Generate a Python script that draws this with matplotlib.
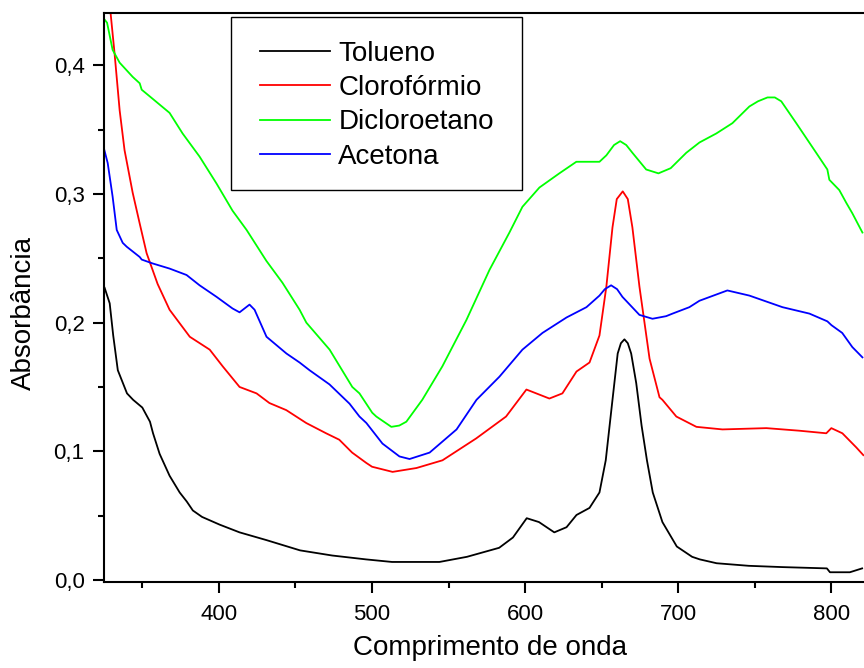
import matplotlib
matplotlib.use("Agg")
from matplotlib import pyplot as plt
from matplotlib.patches import Rectangle
from matplotlib.ticker import MultipleLocator, FuncFormatter

# espectros UV-Vis
tol_x = [325.4, 328.7, 331.0, 334.0, 340.0, 344.0, 350.0, 355.0, 357.0, 361.3, 367.8, 374.4,
         379.0, 383.0, 389.0, 400.5, 413.5, 431.0, 453.0, 474.0, 496.0, 513.0, 530.0, 544.0,
         562.0, 583.0, 592.0, 601.0, 609.0, 619.0, 627.0, 633.5, 642.0, 648.5, 652.6, 657.0,
         660.4, 662.5, 664.8, 667.0, 669.2, 672.5, 676.0, 679.5, 683.3, 689.6, 699.0, 709.0,
         714.0, 725.0, 746.0, 768.0, 797.0, 799.0, 812.0, 820.0]
tol_y = [0.227, 0.215, 0.190, 0.163, 0.145, 0.140, 0.134, 0.123, 0.114, 0.098, 0.081, 0.068,
         0.061, 0.054, 0.049, 0.043, 0.037, 0.031, 0.023, 0.019, 0.016, 0.014, 0.014, 0.014,
         0.018, 0.025, 0.033, 0.048, 0.045, 0.037, 0.041, 0.0505, 0.056, 0.068, 0.093, 0.140,
         0.176, 0.184, 0.187, 0.184, 0.176, 0.153, 0.120, 0.093, 0.068, 0.045, 0.026, 0.018,
         0.016, 0.013, 0.011, 0.010, 0.009, 0.006, 0.006, 0.009]

clo_x = [328.5, 331.9, 335.2, 338.4, 343.7, 348.3, 352.8, 360.0, 367.8, 381.0, 394.0, 402.5,
         413.5, 424.6, 433.0, 444.0, 457.0, 470.0, 478.6, 487.0, 496.2, 500.0, 513.4, 529.0,
         546.0, 568.0, 587.5, 600.8, 615.8, 624.3, 633.5, 642.0, 648.5, 653.0, 657.0, 659.8,
         663.7, 667.0, 670.0, 674.6, 681.2, 687.7, 689.6, 698.7, 711.8, 728.8, 757.5, 779.0,
         796.6, 799.9, 807.1, 816.2, 820.8]
clo_y = [0.450, 0.409, 0.365, 0.334, 0.301, 0.277, 0.254, 0.230, 0.210, 0.189, 0.179, 0.166,
         0.150, 0.145, 0.1375, 0.132, 0.122, 0.114, 0.109, 0.099, 0.091, 0.088, 0.084, 0.087,
         0.093, 0.110, 0.127, 0.148, 0.141, 0.145, 0.162, 0.169, 0.190, 0.228, 0.274, 0.296,
         0.302, 0.296, 0.274, 0.228, 0.172, 0.142, 0.140, 0.127, 0.119, 0.117, 0.118, 0.116,
         0.114, 0.118, 0.114, 0.103, 0.097]

dic_x = [324.4, 327.0, 330.6, 335.2, 343.7, 348.3, 349.6, 356.7, 367.8, 376.3, 387.4, 398.5,
         408.9, 418.1, 431.0, 441.5, 452.7, 457.1, 472.3, 487.1, 491.8, 500.1, 502.8, 512.6,
         517.8, 522.4, 532.8, 545.9, 561.6, 576.7, 589.7, 598.2, 609.3, 622.3, 633.4, 641.9,
         648.5, 653.0, 658.0, 662.0, 666.0, 670.0, 679.0, 687.0, 695.0, 705.2, 713.8, 724.8,
         735.3, 746.4, 752.0, 758.2, 763.0, 767.2, 777.0, 790.0, 797.3, 798.6, 805.1, 809.7,
         813.6, 820.2]
dic_y = [0.437, 0.433, 0.412, 0.402, 0.391, 0.386, 0.381, 0.374, 0.363, 0.347, 0.329, 0.308,
         0.287, 0.272, 0.248, 0.231, 0.210, 0.200, 0.179, 0.150, 0.145, 0.130, 0.127, 0.119,
         0.120, 0.123, 0.140, 0.166, 0.202, 0.241, 0.270, 0.290, 0.305, 0.316, 0.325, 0.325,
         0.325, 0.330, 0.338, 0.341, 0.338, 0.332, 0.319, 0.316, 0.320, 0.332, 0.340, 0.347,
         0.355, 0.368, 0.372, 0.375, 0.375, 0.372, 0.355, 0.332, 0.319, 0.311, 0.303, 0.293,
         0.285, 0.270]

ace_x = [324.8, 327.4, 330.6, 333.3, 337.2, 339.8, 348.3, 349.6, 356.7, 367.8, 378.9, 387.4,
         398.5, 408.9, 413.5, 420.0, 423.3, 431.1, 444.1, 452.7, 459.2, 472.2, 485.3, 491.8,
         496.3, 506.8, 517.9, 524.5, 537.6, 555.2, 568.2, 583.2, 598.2, 611.3, 627.0, 640.0,
         648.5, 652.0, 656.1, 660.0, 663.5, 674.6, 683.1, 692.0, 696.2, 707.2, 713.8, 732.0,
         746.4, 768.0, 785.6, 797.3, 800.0, 807.0, 813.6, 820.2]
ace_y = [0.336, 0.324, 0.298, 0.272, 0.262, 0.259, 0.251, 0.249, 0.246, 0.242, 0.237, 0.229,
         0.220, 0.211, 0.208, 0.214, 0.210, 0.189, 0.176, 0.169, 0.163, 0.152, 0.137, 0.127,
         0.122, 0.106, 0.096, 0.094, 0.099, 0.117, 0.140, 0.158, 0.179, 0.192, 0.204, 0.212,
         0.221, 0.226, 0.229, 0.226, 0.220, 0.206, 0.203, 0.205, 0.207, 0.212, 0.217, 0.225,
         0.221, 0.212, 0.207, 0.201, 0.198, 0.192, 0.181, 0.173]

series = [("Tolueno", tol_x, tol_y, "#000000"),
          ("Clorofórmio", clo_x, clo_y, "#ff0000"),
          ("Dicloroetano", dic_x, dic_y, "#00ff00"),
          ("Acetona", ace_x, ace_y, "#0000ff")]

plt.rcParams['font.family'] = ['Liberation Sans', 'DejaVu Sans']

fig = plt.figure(figsize=(8.64, 6.68), dpi=100)
# o grafico original esta cortado a direita, por isso o eixo passa da figura
ax = fig.add_axes([0.1204, 0.1287, 0.9306, 0.8518])

for name, xs, ys, color in series:
    ax.plot(xs, ys, color=color, lw=1.3, label=name)

ax.set_xlim(325, 850)
ax.set_ylim(-0.0016, 0.4406)

ax.xaxis.set_major_locator(MultipleLocator(100))
ax.xaxis.set_minor_locator(MultipleLocator(50))
ax.yaxis.set_major_locator(MultipleLocator(0.1))
ax.yaxis.set_minor_locator(MultipleLocator(0.05))
ax.yaxis.set_major_formatter(FuncFormatter(lambda v, pos: f"{v:.1f}".replace('.', ',')))
ax.xaxis.set_major_formatter(FuncFormatter(lambda v, pos: f"{v:.0f}"))

for s in ax.spines.values():
    s.set_linewidth(1.5)
ax.tick_params(which='both', direction='out', width=1.5, labelsize=16)
ax.tick_params(which='major', length=8)
ax.tick_params(which='minor', length=4.3)
ax.tick_params(axis='y', pad=6)
ax.tick_params(axis='x', pad=8)

ax.set_xlabel("Comprimento de onda", fontsize=20)
ax.set_ylabel("Absorbância", fontsize=20)
ax.xaxis.set_label_coords(0.48, -0.093)
ax.yaxis.set_label_coords(-0.083, 0.473)

# legenda sem moldura; a caixa e desenhada a parte
leg = ax.legend(loc='upper left', bbox_to_anchor=(260 / 864, 1 - 41 / 668),
                bbox_transform=fig.transFigure, fontsize=20, frameon=False,
                borderaxespad=0, borderpad=0, labelspacing=0.295,
                handlelength=2.52, handletextpad=0.3)
fig.add_artist(Rectangle((231 / 864, 1 - 190 / 668), (522 - 231) / 864, (190 - 17) / 668,
                         transform=fig.transFigure, fill=False, edgecolor='black', lw=1.0))

fig.savefig("out.png", dpi=100)
